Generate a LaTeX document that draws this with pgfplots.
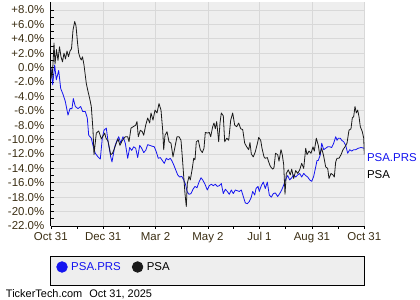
\documentclass[border=0pt]{standalone}
\usepackage{fontspec}
\setmainfont{Liberation Sans}
\usepackage{pgfplots}
\usepackage{pgfplotstable}
\pgfplotsset{compat=1.18}
\definecolor{bgc}{HTML}{EEEEEE}
\definecolor{gridc}{HTML}{D8D8D8}
\definecolor{labc}{HTML}{3C2F14}
\definecolor{prs}{HTML}{1414F0}
\definecolor{psa}{HTML}{1A1A1A}

% px = horizontal position, converted to days below
\pgfplotstableread{
px v
50.8 0.0
52.7 -2.4
54.7 0.36
56.3 -1.7
58.7 -0.4
60.7 -2.9
63 -3.7
65.3 -4.7
68 -6.6
70 -5.7
72 -5.7
73.3 -4.3
75.3 -5.4
78 -5.7
80.7 -5.4
82.7 -6.1
85.3 -6.1
87.3 -7.0
88.7 -9.4
91.3 -9.8
93.3 -11.0
95.3 -11.9
98 -12.4
100.3 -12.7
102.3 -9.8
104 -8.7
106.3 -8.4
108 -10.2
110.7 -12.4
112 -13.1
114.7 -11.0
116.7 -10.2
118.7 -9.6
120.7 -10.5
123 -9.6
125.3 -10.5
127.7 -12.6
129.7 -11.1
131.7 -11.5
133.7 -11.0
135.7 -11.2
137.7 -12.5
139.7 -10.8
141.7 -11.2
143.7 -11.8
145.7 -11.5
147.7 -10.7
149.7 -10.8
151.7 -10.9
154.3 -11.0
156.3 -11.7
158.3 -12.6
160.3 -12.5
162.3 -12.9
164.3 -13.3
166.3 -12.6
168.3 -12.8
170.3 -12.6
171.7 -12.9
173.7 -13.5
175.7 -14.2
177.7 -14.9
179.7 -15.2
181.7 -15.1
183.7 -15.6
185.7 -16.3
187 -17.2
189 -17.6
191 -17.5
193 -16.9
195 -16.5
197 -16.7
199 -15.9
201 -15.3
202.7 -15.6
205 -16.2
207.3 -17.0
209.3 -16.4
211.3 -16.2
213.3 -16.4
215.3 -16.2
217.3 -16.5
219.3 -16.4
221.3 -16.1
223.3 -17.5
225.3 -16.9
227.3 -17.2
229.3 -17.6
231.3 -17.0
233.3 -17.5
235.3 -17.0
237.3 -17.1
239.3 -17.2
241.3 -17.0
243.3 -17.9
245.3 -18.8
247.3 -18.9
249.3 -18.6
251.3 -18.0
252.7 -17.2
254.7 -17.7
256 -16.8
258 -16.5
259.3 -17.2
261.3 -16.4
263.3 -15.9
265.3 -16.8
267.3 -15.9
269.3 -17.7
271.3 -18.0
273.3 -17.5
275.3 -17.4
277.7 -17.9
279.7 -17.5
281.7 -17.0
283.7 -16.3
285.7 -15.5
287.7 -15.0
289.7 -15.6
291.7 -15.3
293.7 -14.9
295.7 -15.2
297.7 -14.9
299.7 -14.7
301.7 -15.2
303.7 -14.7
305.7 -15.0
307.7 -15.2
309.7 -15.6
311.7 -15.8
313.7 -15.1
315.7 -13.8
317 -12.9
318.3 -12.9
320.3 -12.1
321.7 -10.5
323.7 -11.4
325.7 -11.2
327.7 -11.0
329.7 -11.0
331.7 -11.1
333.7 -10.5
335.7 -9.6
337 -10.1
338.3 -9.8
340.3 -9.8
341.7 -10.1
343.7 -10.3
345.7 -10.8
347.7 -11.9
349.7 -11.4
351.7 -11.6
353.7 -11.4
355.7 -11.4
358.3 -11.2
361 -11.1
364.3 -11.2
}\prsdata

\pgfplotstableread{
px v
50.8 0.0
52 -1.5
53 0.5
54 3.4
55 0.5
56.5 2.5
58 1.0
59.5 2.9
61 1.5
62.5 0.8
64 2.0
65.5 1.2
67 2.3
68.5 1.5
70 2.3
71.5 2.6
73 5.2
74.7 6.4
76 5.8
77.5 3.5
78.7 2.0
80 1.4
81.3 1.05
82.5 1.5
84 0.36
86.3 -2.2
88 -3.3
89.7 -4.3
91.3 -5.4
93 -8.7
94 -12.1
96.3 -9.1
98.7 -8.8
101.3 -9.9
103 -9.5
104.7 -9.1
106 -9.8
108 -10.2
110.7 -12.1
112.5 -11.9
114 -11.4
116 -10.6
118 -9.9
120 -10.8
122 -10.2
125.3 -9.6
127.7 -9.6
129 -10.3
131 -8.4
133.3 -8.2
135.7 -8.0
137 -7.5
138.3 -9.6
140.3 -8.7
142.3 -8.9
143.7 -9.4
145.7 -8.0
147.7 -7.0
149.7 -7.7
151 -6.3
153 -7.3
155 -5.9
157 -6.3
159 -5.0
161 -5.9
162.7 -8.7
163.7 -11.4
165 -9.4
167 -8.9
169 -10.3
171 -10.5
173 -12.4
175 -11.0
177 -9.6
179 -9.6
181 -10.1
182.3 -12.4
183.7 -15.1
185 -17.5
186.3 -19.3
187.3 -16.1
189 -15.1
190.3 -15.6
192.3 -14.0
193.7 -12.6
195 -12.8
196.3 -10.3
198.3 -10.1
200.3 -11.4
202.3 -11.8
204 -11.2
205.3 -9.0
207.3 -9.1
209.3 -9.0
210.7 -9.6
212.7 -8.2
214 -7.7
215.3 -8.5
216.7 -7.5
218.7 -10.3
220 -7.7
221.3 -6.3
223.3 -6.7
224.7 -10.3
226.7 -9.8
228.7 -10.1
230.7 -7.3
232.7 -6.3
234.7 -8.0
236.7 -8.2
238.7 -7.7
240.7 -8.5
242.7 -8.6
244.7 -10.5
246.7 -11.0
248.7 -11.4
250 -10.4
251.3 -12.0
253.3 -12.4
255.3 -11.7
257.3 -10.6
258.7 -9.7
260.7 -10.1
262 -11.2
264 -12.4
265.3 -12.6
267.3 -12.5
268.7 -13.1
270 -13.6
271.3 -13.9
272.7 -14.1
274 -13.9
275.5 -11.9
277.7 -12.1
279 -13.0
281 -11.4
282.3 -12.1
283.7 -13.5
285 -17.6
286.3 -14.7
288.3 -14.2
290.3 -14.9
291.7 -14.1
293.7 -15.4
295.7 -14.3
297.7 -14.7
299.7 -14.2
301.7 -13.3
303.7 -14.0
305.7 -11.2
307 -12.1
309 -11.6
311 -11.9
313 -11.0
314.3 -11.6
316.3 -9.8
318.3 -10.8
319.7 -12.1
321.7 -11.2
323.7 -12.3
325.7 -13.8
327.7 -14.0
329 -15.4
331 -14.7
333 -14.9
334.3 -15.2
335.7 -13.1
337 -12.6
339 -12.6
341 -12.1
343 -11.4
345 -11.0
347 -10.5
349 -8.7
351 -8.5
352.3 -7.0
353.7 -6.8
355 -5.4
356.3 -6.3
357.7 -5.9
359 -6.8
360.3 -8.2
362.3 -8.9
363.7 -9.8
364.3 -12.1
}\psadata

\begin{document}
\begin{tikzpicture}
\fill[white] (0,0) rectangle (420bp,300bp);
\draw[black, fill=bgc, line width=0.8bp] (50.8bp,15bp) rectangle (364.3bp,44bp);
\begin{axis}[
  at={(50.8bp,74bp)}, anchor=south west,
  scale only axis, width=313.5bp, height=224bp,
  xmin=0, xmax=365, ymin=-22, ymax=9.11,
  axis background/.style={fill=bgc},
  axis x line*=bottom, axis y line*=left,
  axis line style={black, line width=0.8bp, -},
  xtick={0,61,122,183,243,304,365},
  xticklabels={Oct 31,Dec 31,Mar 2,May 2,Jul 1,Aug 31,Oct 31},
  minor xtick={30.5,91.5,152.5,213,273.5,334.5},
  ytick={-22,-20,...,8},
  yticklabels={-22.0\%,-20.0\%,-18.0\%,-16.0\%,-14.0\%,-12.0\%,-10.0\%,-8.0\%,-6.0\%,-4.0\%,-2.0\%,0.0\%,+2.0\%,+4.0\%,+6.0\%,+8.0\%},
  minor ytick={-21,-19,...,7},
  grid=major,
  major grid style={gridc, line width=0.8bp},
  xtick align=outside, ytick align=inside,
  major tick length=3bp, minor tick length=3bp,
  tick style={black, line width=0.6bp},
  ticklabel style={font=\fontsize{11.5}{13}\selectfont, text=labc},
  yticklabel style={xshift=-3bp},
  legend style={at={(axis description cs:0.017,-0.183)}, anchor=west,
    draw=none, fill=none, legend columns=2, inner sep=0pt,
    font=\fontsize{11.5}{13}\selectfont,
    /tikz/every odd column/.append style={column sep=1.5bp},
    /tikz/every even column/.append style={column sep=9bp}},
  clip=true,
]
\addplot[prs, line width=0.8bp, line join=round,
  legend image code/.code={\fill[prs] (0bp,0bp) circle (5.3bp);}]
  table[x expr={(\thisrow{px}-50.8)*1.16427}, y=v] {\prsdata};
\addlegendentry{\textcolor{prs}{PSA.PRS}}
\addplot[psa, line width=0.8bp, line join=round,
  legend image code/.code={\fill[psa] (0bp,0bp) circle (5.3bp);}]
  table[x expr={(\thisrow{px}-50.8)*1.16427}, y=v] {\psadata};
\addlegendentry{PSA}
\end{axis}
\node[anchor=west, inner sep=0pt, text=prs, font=\fontsize{11.5}{13}\selectfont] at (366.8bp,142bp) {PSA.PRS};
\node[anchor=west, inner sep=0pt, text=black, font=\fontsize{11.5}{13}\selectfont] at (366.8bp,125.5bp) {PSA};
\node[anchor=west, inner sep=0pt, font=\fontsize{11}{12}\selectfont] at (5.8bp,6bp) {TickerTech.com\hspace{7bp}Oct 31, 2025};
\pgfresetboundingbox
\path[use as bounding box] (0,0) rectangle (420bp,300bp);
\end{tikzpicture}
\end{document}
